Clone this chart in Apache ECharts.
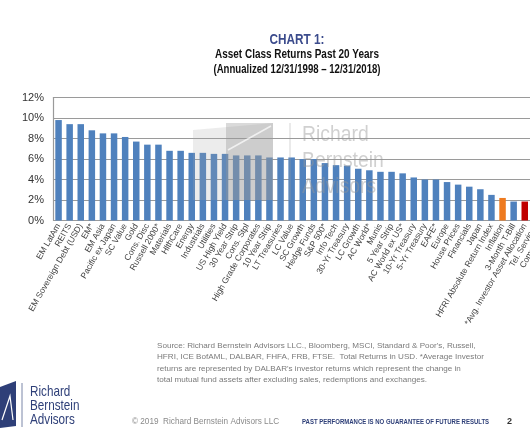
<!DOCTYPE html>
<html>
<head>
<meta charset="utf-8">
<script src="https://cdn.jsdelivr.net/npm/echarts@6/dist/echarts.min.js"></script>
<style>
html,body{margin:0;padding:0;background:#fff;}
#c{width:530px;height:442px;}
</style>
</head>
<body>
<div id="c"></div>
<script>
const categories = [
  'EM LatAm','REITS','EM Sovereign Debt (USD)','EM*','EM Asia','Pacific ex Japan','SC Value','Gold',
  'Cons. Disc','Russell 2000*','Materials','HlthCare','Energy','Industrials','Utilities','US High Yield',
  '30 Year Strip','Cons. Stpl','High Grade Corporates','10 Year Strip','LT Treasuries','LC Value',
  'SC Growth','Hedge Funds','S&P 500*','Info Tech','30-Yr Treasury','LC Growth','AC World*','Munis',
  '5 Year Strip','AC World ex US*','10-Yr Treasury','5-Yr Treasury','EAFE*','Europe','House Prices',
  'Financials','Japan','HFRI Absolute Return Index','Inflation','3-Month T-Bill',
  '*Avg. Investor Asset Allocation','Tel. Services','Commodities'
];
const returns = [
  9.8, 9.4, 9.4, 8.8, 8.5, 8.5, 8.15, 7.7,
  7.4, 7.4, 6.8, 6.8, 6.6, 6.6, 6.5, 6.5,
  6.35, 6.35, 6.35, 6.15, 6.15, 6.15,
  6.0, 6.0, 5.6, 5.4, 5.35, 5.05, 4.9, 4.75,
  4.75, 4.6, 4.2, 4.0, 4.0, 3.75, 3.5,
  3.3, 3.05, 2.5, 2.2, 1.85,
  1.85, 1.5, 1.0
];
const yTicks = [0, 2, 4, 6, 8, 10, 12];

const highlightColors = {
  'Inflation': '#EE7A1F',
  '*Avg. Investor Asset Allocation': '#C00000'
};
const baseColor = '#4F81BD';

const chart = echarts.init(document.getElementById('c'), null, {renderer: 'canvas'});
const sans = "'Liberation Sans',Arial,sans-serif";

function narrowText(x, y, text, font, fill, sx, align, extra) {
  return {
    type: 'text', z: 10, x: x, y: y, scaleX: sx, silent: true,
    style: Object.assign({text: text, fill: fill, font: font, textAlign: align || 'left', textVerticalAlign: 'middle'}, extra || {})
  };
}

const option = {
  backgroundColor: '#ffffff',
  animation: false,
  grid: {left: 53, top: 97.5, height: 123, width: 499.5, containLabel: false, outerBoundsMode: 'none'},
  xAxis: {
    type: 'category',
    data: categories,
    axisLine: {show: false},
    axisTick: {show: false},
    axisLabel: {
      interval: 0, rotate: 60, margin: 4, hideOverlap: false,
      fontSize: 8.5, color: '#404040', fontFamily: sans
    }
  },
  yAxis: {
    type: 'value',
    min: yTicks[0], max: yTicks[yTicks.length - 1], interval: 2,
    axisLine: {show: true, lineStyle: {color: '#9a9a9a', width: 1.2}},
    axisTick: {show: false},
    axisLabel: {formatter: '{value}%', fontSize: 11, color: '#333', margin: 9, fontFamily: sans},
    splitLine: {show: true, lineStyle: {color: '#9a9a9a', width: 1.2}}
  },
  series: [{
    type: 'bar',
    data: returns.map((v, i) => ({
      value: v,
      itemStyle: {color: highlightColors[categories[i]] || baseColor}
    })),
    barWidth: 6.5,
    z: 2
  }],
  graphic: [
    // watermark logo
    {type: 'polygon', z: 5, silent: true,
      shape: {points: [[193, 130], [273, 123], [273, 200], [193, 200]]},
      style: {fill: 'rgba(170,170,170,0.22)'}},
    {type: 'polygon', z: 5, silent: true,
      shape: {points: [[226, 123], [273, 123], [273, 200], [226, 200]]},
      style: {fill: 'rgba(150,150,150,0.35)'}},
    {type: 'line', z: 6, silent: true,
      shape: {x1: 228, y1: 150, x2: 271, y2: 126},
      style: {stroke: 'rgba(255,255,255,0.7)', lineWidth: 1.5}},
    {type: 'line', z: 6, silent: true,
      shape: {x1: 290, y1: 123, x2: 290, y2: 200},
      style: {stroke: 'rgba(160,160,160,0.45)', lineWidth: 1}},
    {type: 'text', z: 6, silent: true, x: 302, y: 122, scaleX: 0.88,
      style: {text: 'Richard\nBernstein\nAdvisors', fill: 'rgba(150,150,150,0.45)',
        font: "22px " + sans, lineHeight: 26}},
    // titles
    narrowText(297, 40, 'CHART 1:', "bold 14px " + sans, '#3B4B8C', 0.84, 'center'),
    narrowText(297, 55, 'Asset Class Returns Past 20 Years', "bold 12px " + sans, '#111', 0.83, 'center'),
    narrowText(297, 70, '(Annualized 12/31/1998 \u2013 12/31/2018)', "bold 12px " + sans, '#111', 0.8, 'center'),
    // source note
    {type: 'text', z: 10, left: 157, top: 340,
      style: {text: "Source: Richard Bernstein Advisors LLC., Bloomberg, MSCI, Standard & Poor's, Russell,\nHFRI, ICE BofAML, DALBAR, FHFA, FRB, FTSE.  Total Returns in USD. *Average Investor\nreturns are represented by DALBAR's investor returns which represent the change in\ntotal mutual fund assets after excluding sales, redemptions and exchanges.",
        fill: '#7a7a7a', font: "8.1px " + sans, lineHeight: 11.5}},
    // footer logo
    {type: 'polygon', z: 10,
      shape: {points: [[0, 387], [16, 381], [16, 426], [0, 428]]},
      style: {fill: '#2E3F78'}},
    {type: 'polyline', z: 11,
      shape: {points: [[2, 420], [10, 396], [13, 420]]},
      style: {stroke: '#ffffff', lineWidth: 1.2, fill: null}},
    {type: 'line', z: 10,
      shape: {x1: 22, y1: 383, x2: 22, y2: 427},
      style: {stroke: '#7b86a8', lineWidth: 1}},
    narrowText(30, 392, 'Richard', "15px " + sans, '#2E3F78', 0.78),
    narrowText(30, 406, 'Bernstein', "15px " + sans, '#2E3F78', 0.78),
    narrowText(30, 420, 'Advisors', "15px " + sans, '#2E3F78', 0.78),
    narrowText(132, 422, '\u00A9 2019  Richard Bernstein Advisors LLC', "8.2px " + sans, '#8a8a8a', 1),
    narrowText(302, 422, 'PAST PERFORMANCE IS NO GUARANTEE OF FUTURE RESULTS', "bold 8px " + sans, '#2E3F78', 0.75),
    narrowText(507, 422, '2', "bold 9px " + sans, '#333', 1)
  ]
};
chart.setOption(option);
</script>
</body>
</html>
